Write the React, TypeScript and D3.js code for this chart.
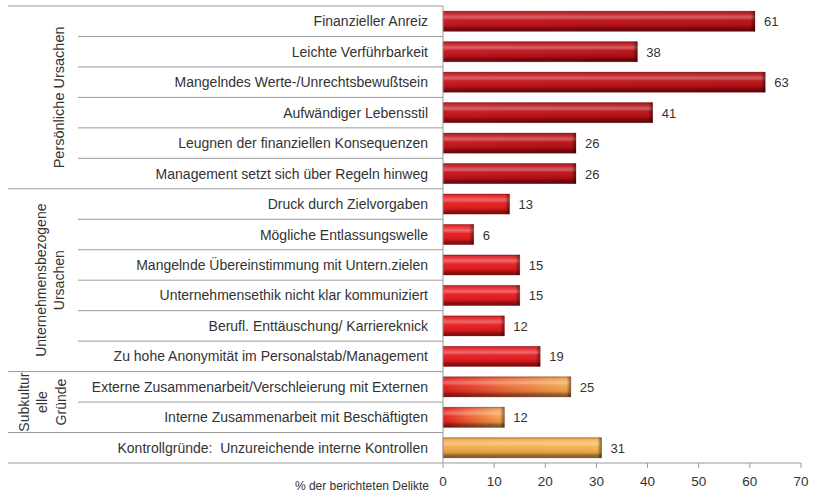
import React from "react";
import * as d3 from "d3";

const categories = [
  "Finanzieller Anreiz",
  "Leichte Verführbarkeit",
  "Mangelndes Werte-/Unrechtsbewußtsein",
  "Aufwändiger Lebensstil",
  "Leugnen der finanziellen Konsequenzen",
  "Management setzt sich über Regeln hinweg",
  "Druck durch Zielvorgaben",
  "Mögliche Entlassungswelle",
  "Mangelnde Übereinstimmung mit Untern.zielen",
  "Unternehmensethik nicht klar kommuniziert",
  "Berufl. Enttäuschung/ Karriereknick",
  "Zu hohe Anonymität im Personalstab/Management",
  "Externe Zusammenarbeit/Verschleierung mit Externen",
  "Interne Zusammenarbeit mit Beschäftigten",
  "Kontrollgründe:  Unzureichende interne Kontrollen",
];
const values = [61, 38, 63, 41, 26, 26, 13, 6, 15, 15, 12, 19, 25, 12, 31];
// group index per category
const groupOf = [0, 0, 0, 0, 0, 0, 1, 1, 1, 1, 1, 1, 2, 2, 3];
const groupLabels: string[][] = [
  ["Persönliche Ursachen"],
  ["Unternehmensbezogene", "Ursachen"],
  ["Subkultur", "elle", "Gründe"],
  [],
];
const xTicks = [0, 10, 20, 30, 40, 50, 60, 70];
const axisTitle = "% der berichteten Delikte";

const W = 815;
const H = 493;
const FONT = "'Liberation Sans', Arial, sans-serif";

export default function App() {
  const x = d3.scaleLinear().domain([0, 70]).range([443, 801]);
  const y = d3.scaleBand<string>().domain(categories).range([6, 463]).paddingInner(0.34).paddingOuter(0.17);
  const step = y.step();
  const rowTop = (i: number) => 6 + i * step;

  const fillFor = (g: number) =>
    g === 0 ? "url(#gDark)" : g === 1 ? "url(#gRed)" : g === 2 ? "url(#gMix)" : "url(#gOrange)";

  const groups = d3.groups(categories.map((c, i) => ({ c, i, g: groupOf[i] })), (d) => d.g);
  const groupCx = [59, 50, 42];
  const groupGap = [18, 18, 18.5];
  const groupFs = [14.5, 14, 14];

  return (
    <svg width={W} height={H} style={{ position: "absolute", left: 0, top: 0, background: "#fff" }}>
      <defs>
        <linearGradient id="gDark" x1="0" x2="1" y1="0" y2="0">
          <stop offset="0" stopColor="#c4121a" />
          <stop offset="1" stopColor="#b60c12" />
        </linearGradient>
        <linearGradient id="gRed" x1="0" x2="1" y1="0" y2="0">
          <stop offset="0" stopColor="#e8191d" />
          <stop offset="1" stopColor="#e41a1c" />
        </linearGradient>
        <linearGradient id="gMix" x1="0" x2="1" y1="0" y2="0">
          <stop offset="0" stopColor="#e31a1c" />
          <stop offset="0.5" stopColor="#ee6a36" />
          <stop offset="1" stopColor="#f4aa4c" />
        </linearGradient>
        <linearGradient id="gOrange" x1="0" x2="1" y1="0" y2="0">
          <stop offset="0" stopColor="#f3a848" />
          <stop offset="1" stopColor="#f6b24e" />
        </linearGradient>
        <linearGradient id="bevel" x1="0" x2="0" y1="0" y2="1">
          <stop offset="0" stopColor="#000" stopOpacity="0.25" />
          <stop offset="0.12" stopColor="#fff" stopOpacity="0.1" />
          <stop offset="0.3" stopColor="#fff" stopOpacity="0.35" />
          <stop offset="0.45" stopColor="#fff" stopOpacity="0.05" />
          <stop offset="0.75" stopColor="#000" stopOpacity="0.1" />
          <stop offset="0.85" stopColor="#000" stopOpacity="0.35" />
          <stop offset="1" stopColor="#000" stopOpacity="0.5" />
        </linearGradient>
        <linearGradient id="endcap" x1="0" x2="1" y1="0" y2="0">
          <stop offset="0" stopColor="#000" stopOpacity="0.05" />
          <stop offset="1" stopColor="#000" stopOpacity="0.45" />
        </linearGradient>
      </defs>

      {/* row separators */}
      {categories.map((c, i) => {
        if (i === 0) return null;
        const newGroup = groupOf[i] !== groupOf[i - 1];
        return (
          <line key={"sep" + i} x1={newGroup ? 8 : 78} x2={443} y1={rowTop(i)} y2={rowTop(i)} stroke="#9a9a9a" strokeWidth={1} />
        );
      })}
      <line x1={8} x2={443} y1={6} y2={6} stroke="#9a9a9a" />
      <line x1={8} x2={443} y1={463} y2={463} stroke="#9a9a9a" />

      {/* group labels */}
      {groups.map(([g, items]) => {
        const gi = g as number;
        const lines = groupLabels[gi];
        if (!lines.length) return null;
        const y0 = rowTop(items[0].i);
        const y1 = rowTop(items[items.length - 1].i + 1);
        const cy = (y0 + y1) / 2;
        const lineGap = groupGap[gi];
        const cx = groupCx[gi];
        return (
          <text
            key={"g" + g}
            transform={`translate(${cx - ((lines.length - 1) * lineGap) / 2},${cy}) rotate(-90)`}
            textAnchor="middle"
            fontFamily={FONT}
            fontSize={groupFs[gi]}
            fill="#333"
          >
            {lines.map((l, k) => (
              <tspan key={k} x={0} y={k * lineGap + 5}>
                {l}
              </tspan>
            ))}
          </text>
        );
      })}

      {/* category labels */}
      {categories.map((c, i) => (
        <text
          key={"l" + i}
          x={428}
          y={y(c)! + y.bandwidth() / 2 + 5}
          textAnchor="end"
          fontFamily={FONT}
          fontSize={14}
          fill="#333"
          style={{ whiteSpace: "pre" }}
        >
          {c}
        </text>
      ))}

      {/* bars */}
      {categories.map((c, i) => {
        const bx = x(0);
        const bw = x(values[i]) - x(0);
        const by = y(c)!;
        const bh = y.bandwidth();
        return (
          <g key={"b" + i}>
            <rect x={bx} y={by} width={bw} height={bh} fill={fillFor(groupOf[i])} />
            <rect x={bx} y={by} width={bw} height={bh} fill="url(#bevel)" />
            <rect x={bx + bw - 4} y={by} width={4} height={bh} fill="url(#endcap)" />
            <rect x={bx} y={by} width={bw} height={bh} fill="none" stroke="#6a0a0a" strokeOpacity={0.35} strokeWidth={0.8} />
            <text x={x(values[i]) + 9} y={by + bh / 2 + 5} fontFamily={FONT} fontSize={13} fill="#333">
              {values[i]}
            </text>
          </g>
        );
      })}

      {/* axes */}
      <line x1={443} x2={443} y1={6} y2={463} stroke="#9a9a9a" />
      <line x1={443} x2={801} y1={463} y2={463} stroke="#9a9a9a" />
      {xTicks.map((t) => (
        <g key={"t" + t}>
          <line x1={x(t)} x2={x(t)} y1={463} y2={468} stroke="#9a9a9a" />
          <text x={x(t)} y={486} textAnchor="middle" fontFamily={FONT} fontSize={13.5} fill="#333">
            {t}
          </text>
        </g>
      ))}
      <text x={429} y={490} textAnchor="end" fontFamily={FONT} fontSize={12} fill="#333">
        {axisTitle}
      </text>
    </svg>
  );
}
